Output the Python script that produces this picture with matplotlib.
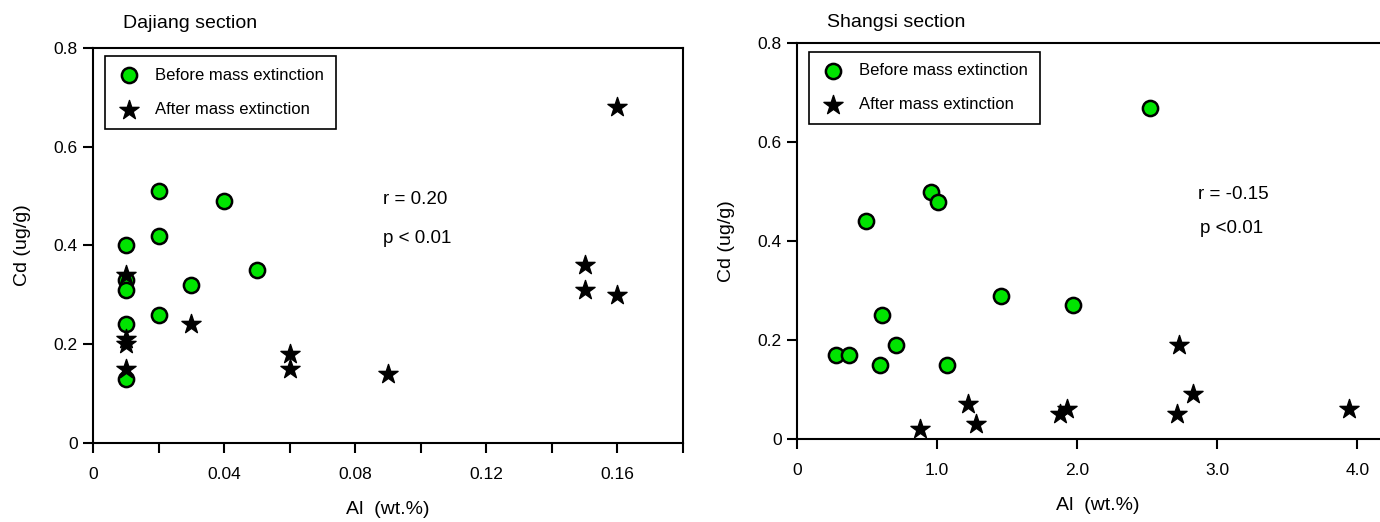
import matplotlib
matplotlib.use("Agg")
import matplotlib.pyplot as plt

plt.rcParams['font.family'] = ['Liberation Sans', 'DejaVu Sans']

# Dajiang section
dj_before_al = [0.01, 0.01, 0.01, 0.01, 0.01, 0.02, 0.02, 0.02, 0.03, 0.04, 0.05]
dj_before_cd = [0.40, 0.33, 0.31, 0.24, 0.13, 0.51, 0.42, 0.26, 0.32, 0.49, 0.35]
dj_after_al = [0.01, 0.01, 0.01, 0.01, 0.03, 0.06, 0.06, 0.09, 0.15, 0.15, 0.16, 0.16]
dj_after_cd = [0.34, 0.21, 0.20, 0.15, 0.24, 0.18, 0.15, 0.14, 0.36, 0.31, 0.68, 0.30]

# Shangsi section
ss_before_al = [0.28, 0.37, 0.49, 0.59, 0.61, 0.71, 0.96, 1.01, 1.07, 1.46, 1.97, 2.52]
ss_before_cd = [0.17, 0.17, 0.44, 0.15, 0.25, 0.19, 0.50, 0.48, 0.15, 0.29, 0.27, 0.67]
ss_after_al = [0.88, 1.22, 1.28, 1.88, 1.93, 2.71, 2.73, 2.83, 3.94]
ss_after_cd = [0.02, 0.07, 0.03, 0.05, 0.06, 0.05, 0.19, 0.09, 0.06]

y_ticks = [0, 0.2, 0.4, 0.6, 0.8]
y_labels = ['0', '0.2', '0.4', '0.6', '0.8']
dj_x_ticks = [0, 0.02, 0.04, 0.06, 0.08, 0.10, 0.12, 0.14, 0.16, 0.18]
dj_x_labels = ['0', '', '0.04', '', '0.08', '', '0.12', '', '0.16', '']
ss_x_ticks = [0, 1, 2, 3, 4]
ss_x_labels = ['0', '1.0', '2.0', '3.0', '4.0']

green = '#00e400'

fig = plt.figure(figsize=(13.8, 5.22), dpi=100)
ax1 = fig.add_axes([0.0674, 0.1513, 0.4275, 0.757])
ax2 = fig.add_axes([0.5775, 0.159, 0.4365, 0.758])


def style(ax):
    for sp in ax.spines.values():
        sp.set_linewidth(1.5)
    ax.tick_params(direction='out', length=7, width=1.5, labelsize=12.5)
    ax.tick_params(axis='x', pad=10)
    ax.tick_params(axis='y', pad=4)
    ax.set_ylim(0, 0.8)
    ax.set_yticks(y_ticks, labels=y_labels)
    ax.set_ylabel('Cd (ug/g)', fontsize=14, labelpad=16)
    ax.set_xlabel('Al  (wt.%)', fontsize=14, labelpad=14)


def add_legend(ax):
    leg = ax.legend(loc='upper left', bbox_to_anchor=(0.007, 1.0), fontsize=12,
                    fancybox=False, edgecolor='black', framealpha=1,
                    borderpad=0.7, labelspacing=1.15, handletextpad=0.9,
                    handlelength=1.4, scatterpoints=1)
    leg.get_frame().set_linewidth(1.2)


# left panel
ax1.scatter(dj_before_al, dj_before_cd, s=120, c=green, edgecolors='black',
            linewidths=1.8, zorder=3, label='Before mass extinction')
ax1.scatter(dj_after_al, dj_after_cd, s=210, c='black', marker='*',
            zorder=4, label='After mass extinction')
ax1.set_xlim(0, 0.18)
ax1.set_xticks(dj_x_ticks, labels=dj_x_labels)
style(ax1)
ax1.text(0.0885, 0.494, 'r = 0.20', fontsize=13.5, va='center')
ax1.text(0.0885, 0.415, 'p < 0.01', fontsize=13.5, va='center')
ax1.set_title('Dajiang section', loc='left', fontsize=14, x=0.05, pad=14)
add_legend(ax1)

# right panel
ax2.scatter(ss_before_al, ss_before_cd, s=120, c=green, edgecolors='black',
            linewidths=1.8, zorder=3, label='Before mass extinction')
ax2.scatter(ss_after_al, ss_after_cd, s=210, c='black', marker='*',
            zorder=4, label='After mass extinction')
ax2.set_xlim(0, 4.3)
ax2.set_xticks(ss_x_ticks, labels=ss_x_labels)
style(ax2)
ax2.spines['right'].set_visible(False)
ax2.text(2.86, 0.494, 'r = -0.15', fontsize=13.5, va='center')
ax2.text(2.88, 0.425, 'p <0.01', fontsize=13.5, va='center')
ax2.set_title('Shangsi section', loc='left', fontsize=14, x=0.05, pad=12)
add_legend(ax2)

fig.savefig('out.png', dpi=100)
